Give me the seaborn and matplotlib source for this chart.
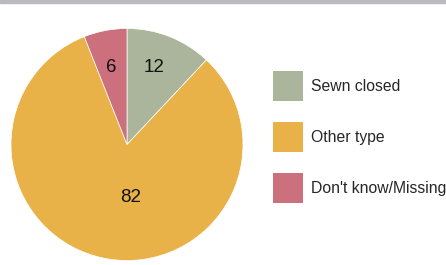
#!/usr/bin/env python3
import matplotlib
matplotlib.use('Agg')
import matplotlib.pyplot as plt
from matplotlib.patches import Patch, Rectangle
import seaborn as sns

sns.set_theme(style='white')
plt.rcParams['font.family'] = ['Liberation Sans', 'DejaVu Sans']

categories = ['Sewn closed', 'Other type', "Don't know/Missing"]
values = [12, 82, 6]
colors = sns.color_palette(['#abb59b', '#e8b248', '#cb707c'])

fig = plt.figure(figsize=(4.46, 2.65), dpi=100)
# grey strip along the top edge
fig.patches.append(Rectangle((0, 1 - 3 / 265), 1, 3 / 265, transform=fig.transFigure,
                             color='#bbbbbf', zorder=0))

ax = fig.add_axes([11 / 446, 4.5 / 265, 232 / 446, 232 / 265])
wedges, texts, autotexts = ax.pie(
    values, colors=colors, startangle=90, counterclock=False,
    autopct=lambda p: f'{p:.0f}', pctdistance=0.7,
    wedgeprops=dict(edgecolor='white', linewidth=0.5),
    textprops=dict(fontsize=13.5, color='#111111'),
)
# label positions tweaked to match the original
autotexts[0].set_position((0.23, 0.66))
autotexts[2].set_position((-0.14, 0.66))
autotexts[1].set_position((0.03, -0.46))
ax.set_xlim(-1, 1)
ax.set_ylim(-1, 1)
ax.set_aspect('equal')
ax.axis('off')

handles = [Patch(facecolor=c, edgecolor='none') for c in colors]
fig.legend(
    handles, categories, loc='upper left',
    bbox_to_anchor=(273 / 446, 1 - 71 / 265),
    frameon=False, fontsize=11.3, borderpad=0, borderaxespad=0,
    handlelength=1.9, handleheight=2.55, handletextpad=0.5,
    labelspacing=1.35,
)

fig.savefig('out.png', dpi=100)
